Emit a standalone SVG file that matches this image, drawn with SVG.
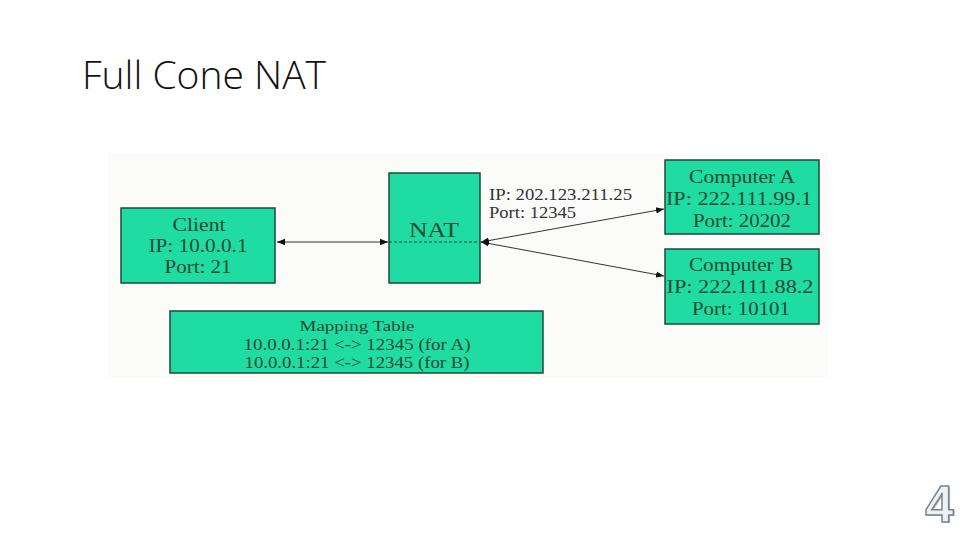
<svg xmlns="http://www.w3.org/2000/svg" width="960" height="540" viewBox="0 0 960 540">
<style>
.box{fill:#1fdca2;stroke:#1f4a3a;stroke-width:1.5}
.t{font-family:"Liberation Serif",serif;fill:#1d4a35;text-anchor:middle}
.lbl{font-family:"Liberation Serif",serif;fill:#333;font-size:16px}
.ln{stroke:#333;stroke-width:1;fill:none}
</style>
<defs>
<marker id="ah" viewBox="0 0 10 10" refX="10" refY="5" markerWidth="8" markerHeight="8" orient="auto-start-reverse" markerUnits="userSpaceOnUse">
<path d="M0,1 L10,5 L0,9 z" fill="#111"/>
</marker>
</defs>
<rect width="960" height="540" fill="#fff"/>
<text x="82" y="89" font-family="'Open Sans','Liberation Sans',sans-serif" font-weight="300" font-size="39" fill="#111">Full Cone NAT</text>
<rect x="108" y="153" width="720" height="225" fill="#fbfbfa"/>
<g id="connectors">
<line class="ln" x1="277" y1="242" x2="388" y2="242" marker-start="url(#ah)" marker-end="url(#ah)"/>
<line class="ln" x1="481" y1="242" x2="664" y2="209" marker-start="url(#ah)" marker-end="url(#ah)" stroke-width="1.3"/>
<line class="ln" x1="481" y1="242" x2="664" y2="276" marker-start="url(#ah)" marker-end="url(#ah)" stroke-width="1.3"/>
</g>
<g id="client">
<rect class="box" x="121" y="208" width="154" height="75"/>
<text class="t" x="199" y="231" font-size="19" textLength="53" lengthAdjust="spacingAndGlyphs">Client</text>
<text class="t" x="198" y="252" font-size="19" textLength="99" lengthAdjust="spacingAndGlyphs">IP: 10.0.0.1</text>
<text class="t" x="198" y="273" font-size="19" textLength="67" lengthAdjust="spacingAndGlyphs">Port: 21</text>
</g>
<g id="nat">
<rect class="box" x="389" y="173" width="91" height="110"/>
<text class="t" x="434" y="237" font-size="21" textLength="50" lengthAdjust="spacingAndGlyphs">NAT</text>
<line x1="389" y1="242" x2="480" y2="242" stroke="#1f4a3a" stroke-width="1" stroke-dasharray="3,2"/>
</g>
<g id="nat-label">
<text class="lbl" x="489" y="200" textLength="143" lengthAdjust="spacingAndGlyphs">IP: 202.123.211.25</text>
<text class="lbl" x="489" y="218" textLength="87" lengthAdjust="spacingAndGlyphs">Port: 12345</text>
</g>
<g id="computerA">
<rect class="box" x="665" y="160" width="154" height="74"/>
<text class="t" x="742" y="183" font-size="19" textLength="106" lengthAdjust="spacingAndGlyphs">Computer A</text>
<text class="t" x="739" y="205" font-size="19" textLength="146" lengthAdjust="spacingAndGlyphs">IP: 222.111.99.1</text>
<text class="t" x="742" y="227" font-size="19" textLength="98" lengthAdjust="spacingAndGlyphs">Port: 20202</text>
</g>
<g id="computerB">
<rect class="box" x="665" y="249" width="154" height="75"/>
<text class="t" x="741" y="271" font-size="19" textLength="104" lengthAdjust="spacingAndGlyphs">Computer B</text>
<text class="t" x="740" y="293" font-size="19" textLength="147" lengthAdjust="spacingAndGlyphs">IP: 222.111.88.2</text>
<text class="t" x="741" y="315" font-size="19" textLength="98" lengthAdjust="spacingAndGlyphs">Port: 10101</text>
</g>
<g id="mapping">
<rect class="box" x="170" y="311" width="373" height="62"/>
<text class="t" x="357" y="331" font-size="15.5" textLength="115" lengthAdjust="spacingAndGlyphs">Mapping Table</text>
<text class="t" x="357" y="350" font-size="16" textLength="227" lengthAdjust="spacingAndGlyphs">10.0.0.1:21 &lt;-&gt; 12345 (for A)</text>
<text class="t" x="357" y="368" font-size="16" textLength="225" lengthAdjust="spacingAndGlyphs">10.0.0.1:21 &lt;-&gt; 12345 (for B)</text>
</g>
<g id="page-number" font-family="'Liberation Sans',sans-serif" font-weight="bold" font-size="51" text-anchor="middle">
<text x="941" y="523" fill="#b8bcc2">4</text>
<text x="939.5" y="521.5" fill="#eef1f5" stroke="#7d838b" stroke-width="1.5">4</text>
</g>
</svg>
